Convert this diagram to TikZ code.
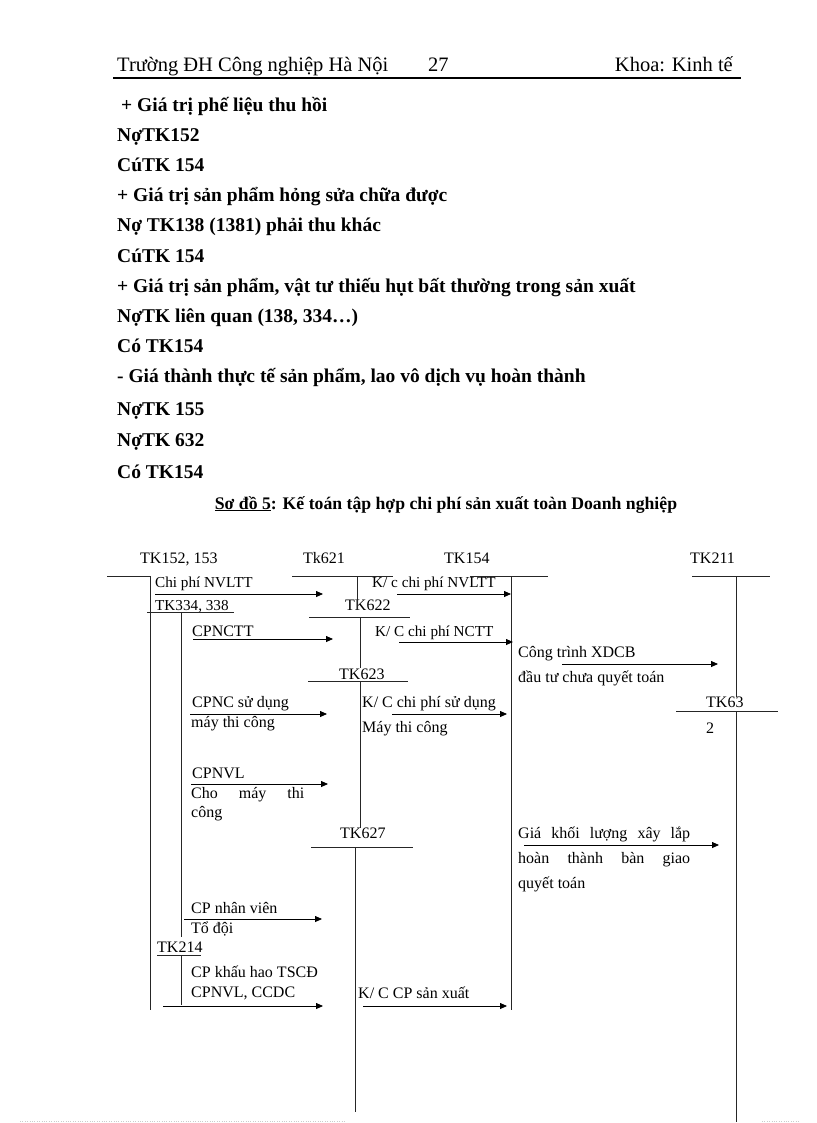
\documentclass[tikz,border=0pt]{standalone}
\usepackage{fontspec}
\setmainfont{Liberation Serif}
\usetikzlibrary{arrows.meta}
\begin{document}
\begin{tikzpicture}[x=1pt,y=-1pt,
  body/.style={anchor=base west,inner sep=0pt,font=\fontsize{19.5}{23}\selectfont\bfseries},
  head/.style={anchor=base west,inner sep=0pt,font=\fontsize{20.5}{24}\selectfont},
  lbl/.style={anchor=base west,inner sep=0pt,font=\fontsize{16}{19}\selectfont},
  slbl/.style={anchor=base west,inner sep=0pt,font=\fontsize{15.2}{18}\selectfont},
  acc/.style={line width=0.9pt,draw=black!85},
  flow/.style={line width=0.8pt,-{Triangle[length=7pt,width=6pt]}}]
\useasboundingbox[fill=white] (0,0) rectangle (816,1123);

% header
\node[head] (h1) at (117,72) {Trường ĐH Công nghiệp Hà Nội};
\node[head] (h2) at (428,72) {27};
\node[head,anchor=base east] (h3) at (733,72) {Khoa: Kinh tế};
\coordinate (hl1) at (113,78);
\coordinate (hl2) at (741,78);
\draw[line width=1.8pt] (hl1) -- (hl2);

% body text
\node[body] (t1) at (121,112) {+ Giá trị phế liệu thu hồi};
\node[body] (t2) at (117,142) {NợTK152};
\node[body] (t3) at (117,172) {CúTK 154};
\node[body] (t4) at (117,202) {+ Giá trị sản phẩm hỏng sửa chữa được};
\node[body] (t5) at (117,232) {Nợ TK138 (1381) phải thu khác};
\node[body] (t6) at (117,262) {CúTK 154};
\node[body] (t7) at (117,292) {+ Giá trị sản phẩm, vật tư thiếu hụt bất thường trong sản xuất};
\node[body] (t8) at (117,322) {NợTK liên quan (138, 334…)};
\node[body] (t9) at (117,352) {Có TK154};
\node[body] (t10) at (117,382) {- Giá thành thực tế sản phẩm, lao vô dịch vụ hoàn thành};
\node[body] (t11) at (117,415) {NợTK 155};
\node[body] (t12) at (117,446) {NợTK 632};
\node[body] (t13) at (117,478) {Có TK154};
\node[body,anchor=base,font=\fontsize{17.7}{21}\selectfont\bfseries] (cap) at (446,509) {\underline{Sơ đồ 5}: Kế toán tập hợp chi phí sản xuất toàn Doanh nghiệp};

% account labels
\node[lbl] (L152) at (140,563) {TK152, 153};
\node[lbl] (L621) at (303,563) {Tk621};
\node[lbl] (L154) at (444,563) {TK154};
\node[lbl] (L211) at (690,563) {TK211};
\node[slbl] (L334) at (155,610) {TK334, 338};
\node[lbl] (L622) at (345,610) {TK622};
\node[lbl] (L623) at (339,679) {TK623};
\node[lbl] (L632) at (706,707) {TK63};
\node[lbl] (L632b) at (706,733) {2};
\node[lbl] (L627) at (340,838) {TK627};
\node[lbl] (L214) at (157,952) {TK214};

% flow labels
\node[slbl] (f1) at (155,587) {Chi phí NVLTT};
\node[slbl] (f2) at (372,587) {K/ c chi phí NVLTT};
\node[lbl] (f3) at (192,636) {CPNCTT};
\node[slbl] (f4) at (375,636) {K/ C chi phí NCTT};
\node[lbl] (f5) at (518,657) {Công trình XDCB};
\node[lbl] (f5b) at (518,682) {đầu tư chưa quyết toán};
\node[lbl] (f6) at (192,707) {CPNC sử dụng};
\node[lbl] (f6b) at (191,727) {máy thi công};
\node[lbl] (f7) at (362,707) {K/ C chi phí sử dụng};
\node[lbl] (f7b) at (362,732) {Máy thi công};
\node[lbl] (f8) at (192,778) {CPNVL};
\node[lbl] (f8b) at (191,798) {\makebox[113pt][s]{Cho\hfill máy\hfill thi}};
\node[lbl] (f8c) at (191,817) {công};
\node[lbl] (f9) at (518,838) {\makebox[172pt][s]{Giá\hfill khối\hfill lượng\hfill xây\hfill lắp}};
\node[lbl] (f9b) at (518,863) {\makebox[172pt][s]{hoàn\hfill thành\hfill bàn\hfill giao}};
\node[lbl] (f9c) at (518,888) {quyết toán};
\node[lbl] (f10) at (191,913) {CP nhân viên};
\node[lbl] (f10b) at (191,933) {Tổ đội};
\node[lbl] (f11) at (191,977) {CP khấu hao TSCĐ};
\node[lbl] (f11b) at (191,997) {CPNVL, CCDC};
\node[lbl] (f12) at (358,998) {K/ C CP sản xuất};

% T-account lines
\coordinate (a152l) at (107,576); \coordinate (a152r) at (150,576); \coordinate (a152b) at (150,1010);
\coordinate (a621l) at (292,576); \coordinate (a621r) at (393,576); \coordinate (a621t) at (357,576); \coordinate (a621b) at (357,610);
\coordinate (a154l) at (470,576); \coordinate (a154r) at (548,576); \coordinate (a154t) at (511,576); \coordinate (a154b) at (511,1010);
\coordinate (a211l) at (692,576); \coordinate (a211r) at (770,576); \coordinate (a211t) at (736,576); \coordinate (a211m) at (736,697);
\coordinate (a632t) at (736,711); \coordinate (a211b) at (736,1122);
\coordinate (a334l) at (147,612); \coordinate (a334r) at (234,612); \coordinate (a334t) at (181,612); \coordinate (a334b) at (181,937);
\coordinate (a622l) at (309,617); \coordinate (a622r) at (410,617); \coordinate (a622t) at (360,617); \coordinate (a622b) at (360,668);
\coordinate (a623l) at (308,681); \coordinate (a623r) at (408,681); \coordinate (a623t) at (360,681); \coordinate (a623b) at (360,828);
\coordinate (a632l) at (676,711); \coordinate (a632r) at (778,711);
\coordinate (a627l) at (311,847); \coordinate (a627r) at (413,847); \coordinate (a627t) at (355,847); \coordinate (a627b) at (355,1112);
\coordinate (a214l) at (157,955); \coordinate (a214r) at (201,955); \coordinate (a214t) at (181,955); \coordinate (a214b) at (181,1005);

\draw[acc] (a152l) -- (a152r) -- (a152b);
\draw[acc] (a621l) -- (a621r); \draw[acc] (a621t) -- (a621b);
\draw[acc] (a154l) -- (a154r); \draw[acc] (a154t) -- (a154b);
\draw[acc] (a211l) -- (a211r); \draw[acc] (a211t) -- (a211m); \draw[acc] (a632t) -- (a211b);
\draw[acc] (a334l) -- (a334r); \draw[acc] (a334t) -- (a334b);
\draw[acc] (a622l) -- (a622r); \draw[acc] (a622t) -- (a622b);
\draw[acc] (a623l) -- (a623r); \draw[acc] (a623t) -- (a623b);
\draw[acc] (a632l) -- (a632r);
\draw[acc] (a627l) -- (a627r); \draw[acc] (a627t) -- (a627b);
\draw[acc] (a214l) -- (a214r); \draw[acc] (a214t) -- (a214b);

% arrows
\coordinate (r1s) at (155,594); \coordinate (r1e) at (323,594);
\coordinate (r2s) at (397,594); \coordinate (r2e) at (511,594);
\coordinate (r3s) at (193,639); \coordinate (r3e) at (333,639);
\coordinate (r4s) at (399,642); \coordinate (r4e) at (513,642);
\coordinate (r5s) at (562,664); \coordinate (r5e) at (718,664);
\coordinate (r6s) at (190,714); \coordinate (r6e) at (327,714);
\coordinate (r7s) at (392,714); \coordinate (r7e) at (507,714);
\coordinate (r8s) at (191,784); \coordinate (r8e) at (328,784);
\coordinate (r9s) at (524,845); \coordinate (r9e) at (719,845);
\coordinate (r10s) at (184,919); \coordinate (r10e) at (322,919);
\coordinate (r11s) at (163,1006); \coordinate (r11e) at (323,1006);
\coordinate (r12s) at (363,1006); \coordinate (r12e) at (507,1006);
\foreach \i in {1,...,12} {\draw[flow] (r\i s) -- (r\i e);}

% faint page edge
\coordinate (d1) at (20,1121); \coordinate (d2) at (345,1121);
\coordinate (d3) at (762,1121); \coordinate (d4) at (800,1121);
\draw[gray!40,dotted] (d1) -- (d2);
\draw[gray!40,dotted] (d3) -- (d4);
\end{tikzpicture}
\end{document}
